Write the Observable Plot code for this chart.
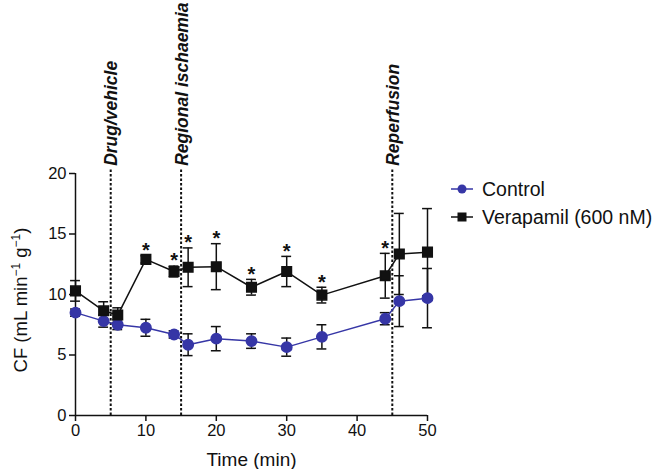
<!DOCTYPE html>
<html>
<head>
<meta charset="utf-8">
<script src="https://cdn.jsdelivr.net/npm/d3@7"></script>
<script src="https://cdn.jsdelivr.net/npm/@observablehq/plot@0.6"></script>
<style>
  body { margin: 0; background: #fff; font-family: "Liberation Sans", Arial, sans-serif; }
  #wrap { position: relative; width: 655px; height: 469px; }
  #legend { position: absolute; left: 450px; top: 175px; font-size: 19.5px; color: #111; }
  #legend .row { display: flex; align-items: center; height: 28px; }
  #legend svg { margin-right: 8px; }
  #ytitle { position: absolute; left: 21px; top: 300px; transform: translate(-50%, -50%) rotate(-90deg);
            white-space: nowrap; font-size: 18.5px; color: #111; line-height: 1; }
  #ytitle sup { font-size: 12px; vertical-align: 0; position: relative; top: -0.6em; }
</style>
</head>
<body>
<div id="wrap"><div id="legend"></div><div id="ytitle"></div></div>
<script>
// ---- data ----
const times = [0, 4, 6, 10, 14, 16, 20, 25, 30, 35, 44, 46, 50];
const controlMean = [8.5, 7.8, 7.5, 7.25, 6.7, 5.85, 6.35, 6.15, 5.65, 6.5, 8.0, 9.45, 9.7];
const controlErr  = [0.3, 0.5, 0.4, 0.7, 0.3, 0.9, 1.0, 0.6, 0.75, 1.0, 0.5, 2.1, 2.45];
const verapMean = [10.3, 8.65, 8.3, 12.9, 11.9, 12.25, 12.3, 10.6, 11.9, 9.95, 11.55, 13.35, 13.5];
const verapErr  = [0.85, 0.75, 0.6, 0.3, 0.45, 1.6, 1.9, 0.65, 1.25, 0.65, 1.85, 3.35, 3.6];
const significantTimes = [10, 14, 16, 20, 25, 30, 35, 44];
const eventTimes = [5, 15, 45];
const eventLabels = ["Drug/vehicle", "Regional ischaemia", "Reperfusion"];
const seriesNames = ["Control", "Verapamil (600 nM)"];
const xTicks = [0, 10, 20, 30, 40, 50];
const yTicks = [0, 5, 10, 15, 20];
const xTitle = "Time (min)";
const yTitleParts = ["CF (mL min", "\u22121", " g", "\u22121", ")"]; // alternating normal / superscript

const blue = "#3636a6";
const black = "#111";

const control = times.map((t, i) => ({t, m: controlMean[i], e: controlErr[i]}));
const verap = times.map((t, i) => ({t, m: verapMean[i], e: verapErr[i]}));
const events = eventTimes.map((t, i) => ({t, label: eventLabels[i]}));
const stars = verap.filter(d => significantTimes.includes(d.t));
const capHalf = 0.7;

function errMarks(data) {
  return [
    Plot.ruleX(data, {x: "t", y1: d => d.m - d.e, y2: d => d.m + d.e, stroke: black, strokeWidth: 1.5}),
    Plot.ruleY(data, {y: d => d.m + d.e, x1: d => d.t - capHalf, x2: d => d.t + capHalf, stroke: black, strokeWidth: 1.5}),
    Plot.ruleY(data, {y: d => d.m - d.e, x1: d => d.t - capHalf, x2: d => d.t + capHalf, stroke: black, strokeWidth: 1.5})
  ];
}

const chart = Plot.plot({
  width: 655,
  height: 469,
  marginLeft: 75,
  marginRight: 228,
  marginTop: 173,
  marginBottom: 54,
  style: {fontFamily: "'Liberation Sans', Arial, sans-serif", background: "#fff", overflow: "visible"},
  x: {domain: [0, 50]},
  y: {domain: [0, 20]},
  marks: [
    Plot.axisX({ticks: xTicks, tickSize: 6, tickPadding: 3, fontSize: 16.5, stroke: black, strokeWidth: 1.5, color: black, label: null}),
    Plot.axisY({ticks: yTicks, tickSize: 6, tickPadding: 3, fontSize: 16.5, stroke: black, strokeWidth: 1.5, color: black, label: null}),
    Plot.text([xTitle], {frameAnchor: "bottom", textAnchor: "middle", dy: 44, lineAnchor: "middle", fontSize: 19, fill: black}),
    Plot.ruleX([0], {stroke: black, strokeWidth: 1.5}),
    Plot.ruleY([0], {stroke: black, strokeWidth: 1.5}),
    Plot.ruleX(events, {x: "t", y1: 0, y2: 20.3, stroke: black, strokeWidth: 2, strokeDasharray: "2.5,2"}),
    Plot.text(events, {x: "t", y: 20.3, text: "label", rotate: -90, textAnchor: "start", lineAnchor: "middle",
      dx: 1, dy: -4, fontSize: 17.5, fontWeight: "bold", fontStyle: "italic", fill: black}),
    ...errMarks(control),
    ...errMarks(verap),
    Plot.line(control, {x: "t", y: "m", stroke: blue, strokeWidth: 1.5}),
    Plot.line(verap, {x: "t", y: "m", stroke: black, strokeWidth: 1.5}),
    Plot.dot(control, {x: "t", y: "m", r: 5.2, fill: blue, stroke: blue, symbol: "circle"}),
    Plot.dot(verap, {x: "t", y: "m", r: 5.4, fill: black, stroke: black, symbol: "square"}),
    Plot.text(stars, {x: "t", y: d => d.m + d.e, text: () => "*", dy: -5, lineAnchor: "middle", fontSize: 20, fontWeight: "bold", fill: black})
  ]
});
document.getElementById("wrap").prepend(chart);

// y-axis title with real superscripts
const yt = d3.select("#ytitle");
yTitleParts.forEach((p, i) => {
  if (i % 2 === 1) yt.append("sup").text(p);
  else yt.append("span").text(p);
});

// legend
const legend = d3.select("#legend");
const colors = [blue, black];
const symbols = ["circle", "square"];
seriesNames.forEach((name, i) => {
  const row = legend.append("div").attr("class", "row");
  const s = row.append("svg").attr("width", 24).attr("height", 14);
  s.append("line").attr("x1", 1).attr("x2", 23).attr("y1", 7).attr("y2", 7).attr("stroke", colors[i]).attr("stroke-width", 1.5);
  if (symbols[i] === "circle") s.append("circle").attr("cx", 12).attr("cy", 7).attr("r", 4.5).attr("fill", colors[i]);
  else s.append("rect").attr("x", 7.5).attr("y", 2.5).attr("width", 9).attr("height", 9).attr("fill", colors[i]);
  row.append("span").text(name);
});
</script>
</body>
</html>
